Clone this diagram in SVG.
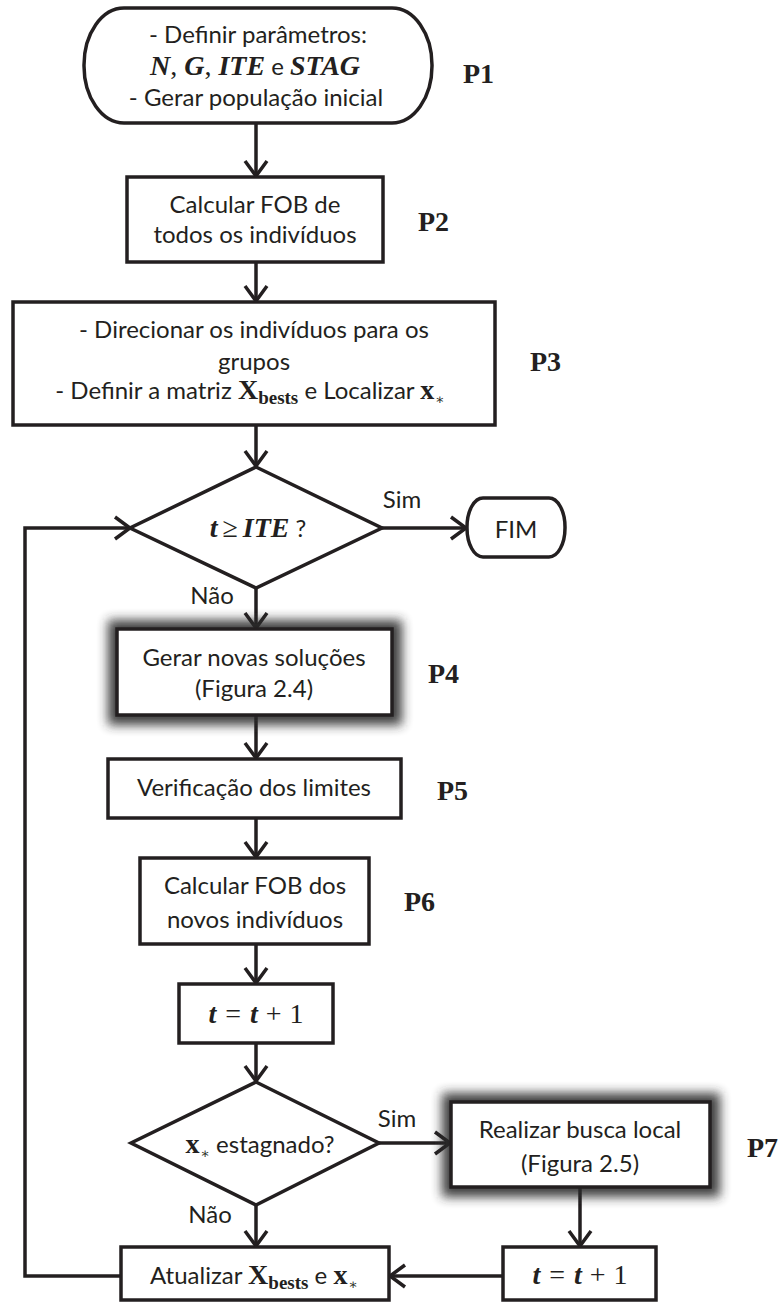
<svg xmlns="http://www.w3.org/2000/svg" width="778" height="1304" viewBox="0 0 778 1304">
  <style>
    .box { fill: #fff; stroke: #231f20; stroke-width: 3.5; }
    .line { fill: none; stroke: #231f20; stroke-width: 3.5; }
    .t { font-family: Lato, "Liberation Sans", sans-serif; font-size: 24px; fill: #231f20; text-anchor: middle; }
    .lbl { font-family: "Liberation Serif", serif; font-weight: bold; font-size: 28px; fill: #231f20; }
    .mi { font-family: "Liberation Serif", serif; font-weight: bold; font-style: italic; font-size: 28px; }
    .mb { font-family: "Liberation Serif", serif; font-weight: bold; font-size: 28px; }
    .mn { font-family: "Liberation Serif", serif; font-size: 28px; }
    .sub { font-family: "Liberation Serif", serif; font-weight: bold; font-size: 19px; }
    .ast { font-family: "DejaVu Serif", serif; font-size: 14px; fill: #231f20; }
    .shadow { fill: #2a2a2a; opacity: 0.9; filter: url(#blur); }
  </style>
  <defs>
    <marker id="arrow" markerUnits="userSpaceOnUse" markerWidth="30" markerHeight="30" refX="0" refY="0" viewBox="-18 -15 22 30" orient="auto">
      <path d="M-15,-11 L0,0 L-15,11" fill="none" stroke="#231f20" stroke-width="3.5"/>
    </marker>
    <filter id="blur" x="-20%" y="-40%" width="140%" height="180%">
      <feGaussianBlur stdDeviation="5.5"/>
    </filter>
  </defs>

  <rect width="778" height="1304" fill="#fff"/>

  <!-- connectors -->
  <g id="connectors">
    <line class="line" x1="256" y1="123" x2="256" y2="176" marker-end="url(#arrow)"/>
    <line class="line" x1="256" y1="262" x2="256" y2="301" marker-end="url(#arrow)"/>
    <line class="line" x1="256" y1="425" x2="256" y2="466" marker-end="url(#arrow)"/>
    <line class="line" x1="382" y1="528" x2="466" y2="528" marker-end="url(#arrow)"/>
    <line class="line" x1="256" y1="588" x2="256" y2="628" marker-end="url(#arrow)"/>
    <line class="line" x1="256" y1="715" x2="256" y2="758" marker-end="url(#arrow)"/>
    <line class="line" x1="256" y1="818" x2="256" y2="857" marker-end="url(#arrow)"/>
    <line class="line" x1="256" y1="944" x2="256" y2="983" marker-end="url(#arrow)"/>
    <line class="line" x1="256" y1="1043" x2="256" y2="1081" marker-end="url(#arrow)"/>
    <line class="line" x1="379" y1="1143" x2="450" y2="1143" marker-end="url(#arrow)"/>
    <line class="line" x1="256" y1="1205" x2="256" y2="1246" marker-end="url(#arrow)"/>
    <line class="line" x1="580" y1="1187" x2="580" y2="1246" marker-end="url(#arrow)"/>
    <line class="line" x1="503" y1="1276" x2="390" y2="1276" marker-end="url(#arrow)"/>
    <polyline class="line" points="121,1276 25,1276 25,528 130,528" marker-end="url(#arrow)"/>
    <text class="t" x="402" y="508">Sim</text>
    <text class="t" x="212" y="604">Não</text>
    <text class="t" x="397" y="1127">Sim</text>
    <text class="t" x="210" y="1223">Não</text>
  </g>

  <!-- P1: start -->
  <g id="start">
    <rect class="box" x="84" y="8" width="348" height="115" rx="40" ry="57"/>
    <text class="t" x="258" y="43">- Definir parâmetros:</text>
    <text class="t" x="255" y="75"><tspan class="mi">N</tspan><tspan class="mn">, </tspan><tspan class="mi">G</tspan><tspan class="mn">, </tspan><tspan class="mi">ITE</tspan> e <tspan class="mi">STAG</tspan></text>
    <text class="t" x="256" y="106">- Gerar população inicial</text>
    <text class="lbl" x="463" y="83">P1</text>
  </g>

  <!-- P2 -->
  <g id="p2">
    <rect class="box" x="127" y="177" width="256" height="85"/>
    <text class="t" x="255" y="213">Calcular FOB de</text>
    <text class="t" x="255" y="243">todos os indivíduos</text>
    <text class="lbl" x="418" y="231">P2</text>
  </g>

  <!-- P3 -->
  <g id="p3">
    <rect class="box" x="13" y="302" width="482" height="123"/>
    <text class="t" x="254" y="338">- Direcionar os indivíduos para os</text>
    <text class="t" x="254" y="370">grupos</text>
    <text class="t" x="250" y="399">- Definir a matriz <tspan class="mb">X</tspan><tspan class="sub" dy="5">bests</tspan><tspan dy="-5"> e Localizar </tspan><tspan class="mb">x</tspan><tspan class="ast" dx="1" dy="5">∗</tspan></text>
    <text class="lbl" x="530" y="371">P3</text>
  </g>

  <!-- decision: t >= ITE -->
  <g id="check-ite">
    <polygon class="box" points="256,467 382,528 256,588 130,528"/>
    <text class="t" x="258" y="537"><tspan class="mi">t</tspan><tspan class="mn" dx="5">≥</tspan><tspan class="mi" dx="5">ITE</tspan> ?</text>
  </g>

  <!-- end -->
  <g id="end">
    <rect class="box" x="467" y="498" width="98" height="59" rx="16" ry="29"/>
    <text class="t" x="516" y="538">FIM</text>
  </g>

  <!-- P4 -->
  <g id="p4">
    <rect class="shadow" x="108" y="620" width="294" height="105"/>
    <rect class="box" x="117" y="629" width="275" height="86"/>
    <text class="t" x="254" y="666">Gerar novas soluções</text>
    <text class="t" x="254" y="697">(Figura 2.4)</text>
    <text class="lbl" x="428" y="683">P4</text>
  </g>

  <!-- P5 -->
  <g id="p5">
    <rect class="box" x="108" y="759" width="293" height="59"/>
    <text class="t" x="254" y="796">Verificação dos limites</text>
    <text class="lbl" x="437" y="800">P5</text>
  </g>

  <!-- P6 -->
  <g id="p6">
    <rect class="box" x="140" y="858" width="229" height="86"/>
    <text class="t" x="255" y="894">Calcular FOB dos</text>
    <text class="t" x="255" y="928">novos indivíduos</text>
    <text class="lbl" x="404" y="911">P6</text>
  </g>

  <!-- t = t + 1 -->
  <g id="inc1">
    <rect class="box" x="179" y="984" width="154" height="59"/>
    <text class="t" x="256" y="1023"><tspan class="mi">t</tspan><tspan class="mn" dx="9">=</tspan><tspan class="mi" dx="9">t</tspan><tspan class="mn" dx="8">+</tspan><tspan class="mn" dx="8">1</tspan></text>
  </g>

  <!-- decision: stagnation -->
  <g id="check-stag">
    <polygon class="box" points="256,1082 379,1143 256,1205 131,1143"/>
    <text class="t" x="260" y="1153"><tspan class="mb">x</tspan><tspan class="ast" dx="1" dy="5">∗</tspan><tspan dy="-5"> estagnado?</tspan></text>
  </g>

  <!-- P7 -->
  <g id="p7">
    <rect class="shadow" x="442" y="1093" width="278" height="104"/>
    <rect class="box" x="451" y="1102" width="259" height="85"/>
    <text class="t" x="580" y="1138">Realizar busca local</text>
    <text class="t" x="580" y="1172">(Figura 2.5)</text>
    <text class="lbl" x="747" y="1157">P7</text>
  </g>

  <!-- t = t + 1 after local search -->
  <g id="inc2">
    <rect class="box" x="503" y="1247" width="153" height="53"/>
    <text class="t" x="580" y="1284"><tspan class="mi">t</tspan><tspan class="mn" dx="9">=</tspan><tspan class="mi" dx="9">t</tspan><tspan class="mn" dx="8">+</tspan><tspan class="mn" dx="8">1</tspan></text>
  </g>

  <!-- update bests -->
  <g id="update">
    <rect class="box" x="121" y="1247" width="268" height="53"/>
    <text class="t" x="254" y="1284">Atualizar <tspan class="mb">X</tspan><tspan class="sub" dy="5">bests</tspan><tspan dy="-5"> e </tspan><tspan class="mb">x</tspan><tspan class="ast" dx="1" dy="5">∗</tspan></text>
  </g>
</svg>
